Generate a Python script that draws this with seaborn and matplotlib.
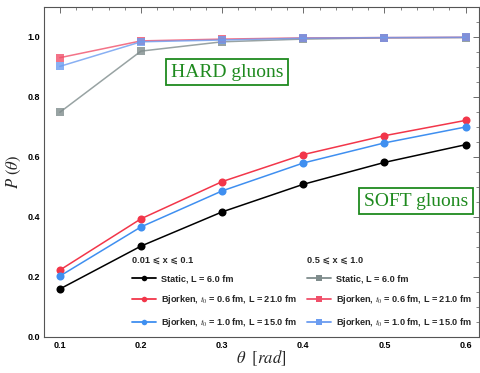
import numpy as np
import pandas as pd
import matplotlib
matplotlib.use("Agg")
import matplotlib.pyplot as plt
import seaborn as sns
from matplotlib.lines import Line2D
from matplotlib.ticker import MultipleLocator

theta = [0.1, 0.2, 0.3, 0.4, 0.5, 0.6]

soft_static = [0.160, 0.303, 0.417, 0.509, 0.582, 0.641]
soft_bj06 = [0.223, 0.394, 0.518, 0.608, 0.671, 0.722]
soft_bj10 = [0.203, 0.367, 0.487, 0.580, 0.647, 0.700]

hard_static = [0.749, 0.953, 0.984, 0.993, 0.997, 0.998]
hard_bj06 = [0.931, 0.987, 0.993, 0.997, 0.998, 0.999]
hard_bj10 = [0.902, 0.984, 0.990, 0.996, 0.998, 0.999]

labels = ["Static, L = 6.0 fm",
          "Bjorken, $t_0$ = 0.6 fm, L = 21.0 fm",
          "Bjorken, $t_0$ = 1.0 fm, L = 15.0 fm"]
soft_title = "0.01 \u2a7d x \u2a7d 0.1"
hard_title = "0.5 \u2a7d x \u2a7d 1.0"

soft_colors = ["#000000", "#f2364a", "#3f8ff0"]
hard_colors = ["#7f8c8c", "#f0506a", "#6b9cf0"]

sns.set_theme(style="white")
plt.rcParams['font.family'] = ['Liberation Sans', 'DejaVu Sans']
plt.rcParams['mathtext.fontset'] = 'stix'

fig = plt.figure(figsize=(4.81, 3.73), dpi=100)
ax = fig.add_axes([44/481, 36/373, 435/481, 330/373])

rows = []
for name, vals in zip(["s0", "s1", "s2"], [soft_static, soft_bj06, soft_bj10]):
    for t, v in zip(theta, vals):
        rows.append({"theta": t, "P": v, "series": name})
df_soft = pd.DataFrame(rows)
rows = []
for name, vals in zip(["h0", "h1", "h2"], [hard_static, hard_bj06, hard_bj10]):
    for t, v in zip(theta, vals):
        rows.append({"theta": t, "P": v, "series": name})
df_hard = pd.DataFrame(rows)

sns.lineplot(data=df_hard, x="theta", y="P", hue="series",
             palette=dict(zip(["h0", "h1", "h2"], hard_colors)),
             marker="s", markersize=6.2, markeredgewidth=0, linewidth=1.1,
             alpha=0.8, legend=False, ax=ax)
sns.lineplot(data=df_soft, x="theta", y="P", hue="series",
             palette=dict(zip(["s0", "s1", "s2"], soft_colors)),
             marker="o", markersize=5.8, markeredgewidth=0, linewidth=1.1,
             legend=False, ax=ax)

ax.set_xlim(0.0805, 0.6165)
ax.set_ylim(0.0, 1.1)
ax.xaxis.set_minor_locator(MultipleLocator(0.02))
ax.yaxis.set_minor_locator(MultipleLocator(0.05))
ax.set_xticks([0.1, 0.2, 0.3, 0.4, 0.5, 0.6])
ax.set_xticklabels(["0.1", "0.2", "0.3", "0.4", "0.5", "0.6"])
ax.set_yticks([0.0, 0.2, 0.4, 0.6, 0.8, 1.0])
ax.set_yticklabels(["0.0", "0.2", "0.4", "0.6", "0.8", "1.0"])
ax.tick_params(which="both", direction="in", top=True, right=True,
               colors="#555555", labelcolor="black", labelsize=6.5)
ax.tick_params(which="major", length=4, width=0.6, pad=3)
ax.tick_params(which="minor", length=2, width=0.5)
for lbl in ax.get_xticklabels() + ax.get_yticklabels():
    lbl.set_fontweight("bold")
for s in ax.spines.values():
    s.set_color("#555555")
    s.set_linewidth(0.8)

ax.set_xlabel(r"$\theta\ \ [rad]$", fontsize=12, labelpad=-1)
ax.set_ylabel(r"$P\ (\theta)$", fontsize=12, labelpad=3)

box = dict(boxstyle="square,pad=0.24", facecolor="white", edgecolor="#1f8a1f", linewidth=1.3)
ax.text(0.306, 0.883, "HARD gluons", color="#1f8a1f", fontsize=14,
        family="Liberation Serif", ha="center", va="center", bbox=box)
ax.text(0.539, 0.453, "SOFT gluons", color="#1f8a1f", fontsize=14,
        family="Liberation Serif", ha="center", va="center", bbox=box)

def mk(handles_c, marker):
    return [Line2D([0], [0], color=c, marker=marker, markersize=4, markeredgewidth=0, linewidth=1.3)
            for c in handles_c]

leg_kw = dict(frameon=False, fontsize=6.6, title_fontsize=6.6, handlelength=2.6,
              handletextpad=0.5, labelspacing=1.05, alignment="left")
leg1 = ax.legend(mk(soft_colors, "o"), labels, title=soft_title,
                 loc="lower left", bbox_to_anchor=(0.184, 0.0), **leg_kw)
ax.add_artist(leg1)
leg2 = ax.legend(mk(hard_colors, "s"), labels, title=hard_title,
                 loc="lower left", bbox_to_anchor=(0.5865, 0.0), **leg_kw)
for lg in (leg1, leg2):
    for t in lg.get_texts():
        t.set_fontweight("bold")
    lg.get_title().set_fontweight("bold")

fig.savefig("out.png", dpi=100)
